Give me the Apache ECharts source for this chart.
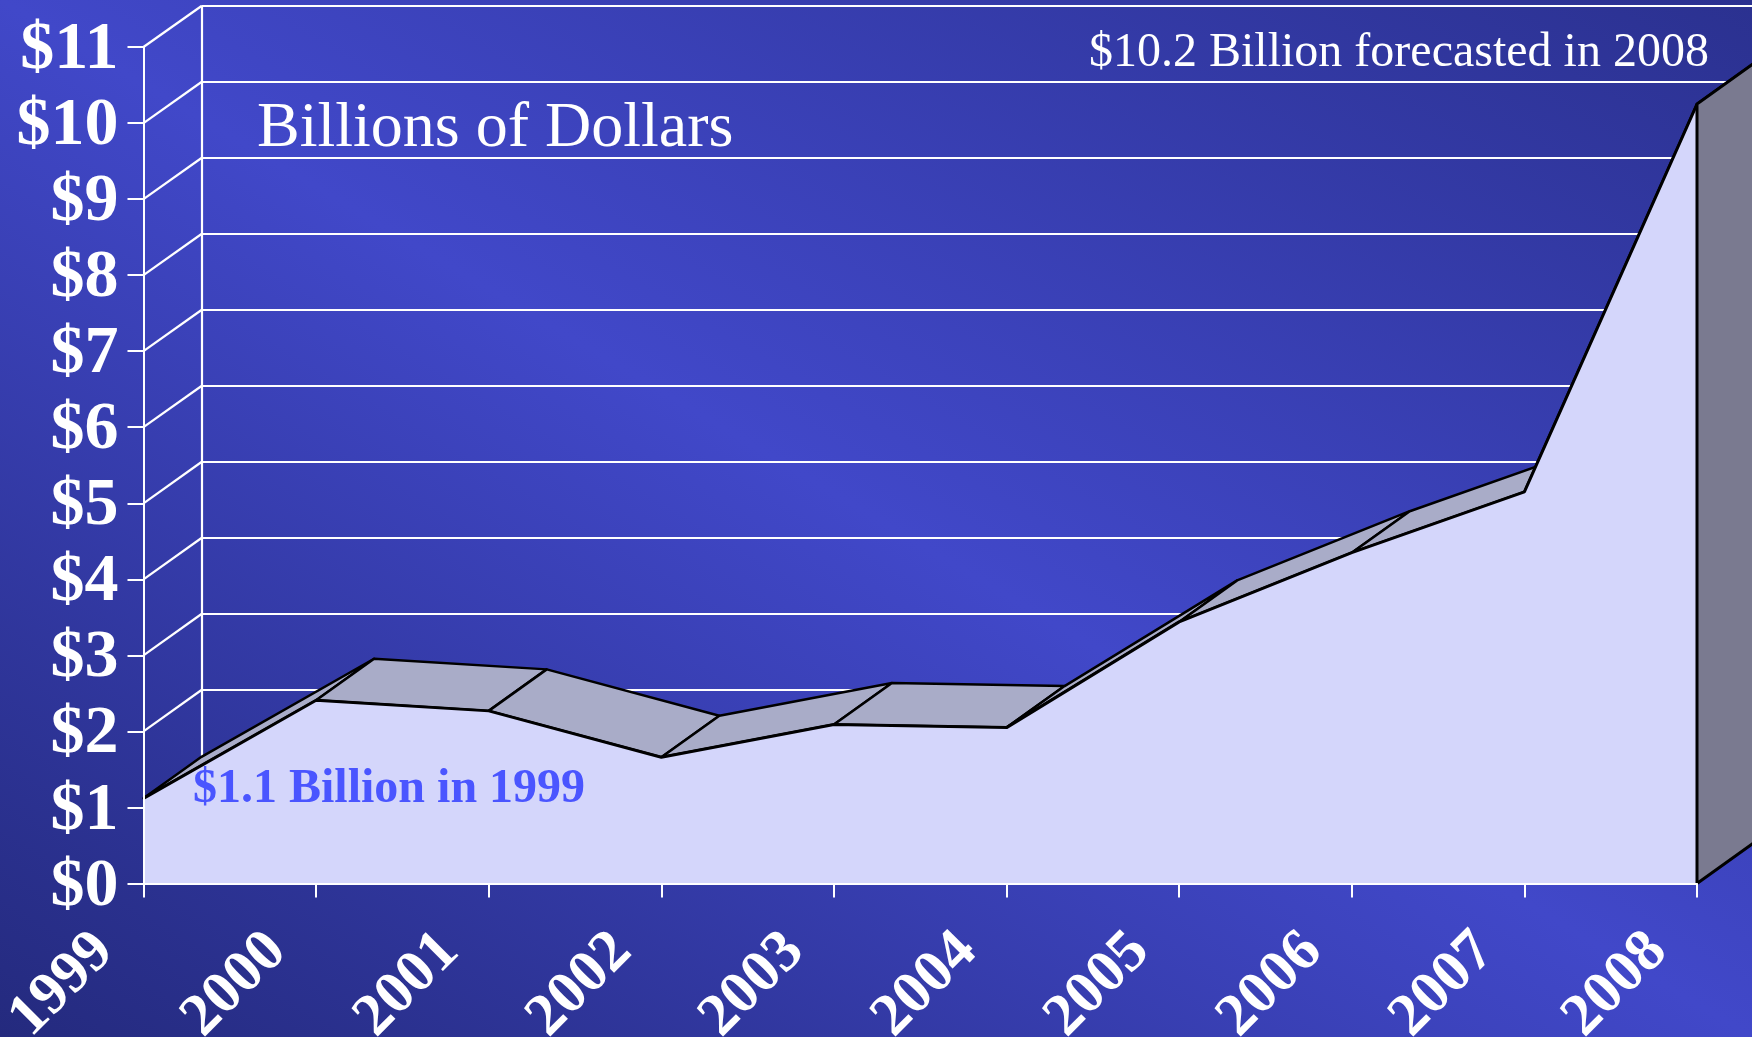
<!DOCTYPE html>
<html><head><meta charset="utf-8">
<style>html,body{margin:0;padding:0;background:#30369a}#c{width:1752px;height:1037px}</style>
<script src="https://cdn.jsdelivr.net/npm/echarts@6/dist/echarts.min.js"></script>
</head><body><div id="c"></div>
<script>
const years = ['1999','2000','2001','2002','2003','2004','2005','2006','2007','2008'];
const revenue = [1.12, 2.41, 2.27, 1.66, 2.09, 2.05, 3.44, 4.35, 5.15, 10.25];
const gridTicks = [0,1,2,3,4,5,6,7,8,9,10,11];
const DX = 58, DY = -41.5;
const FONT = '"Liberation Serif","Times New Roman",serif';
const chart = echarts.init(document.getElementById('c'), null, {renderer:'canvas'});
const back = p => [p[0]+DX, p[1]+DY];
const white = {stroke:'#fff',lineWidth:2.2};
chart.setOption({
  animation:false,
  backgroundColor:{type:'linear',global:true,x:422,y:1285,x2:1330,y2:-249,
    colorStops:[{offset:0,color:'#242a7e'},{offset:0.5,color:'#4148c9'},{offset:1,color:'#2b3190'}]},
  grid:{left:143.5,top:47,width:1553.5,height:836.5,containLabel:false,outerBoundsMode:'none'},
  xAxis:{type:'category',data:years,boundaryGap:false,z:6,
    axisLine:{show:true,onZero:false,lineStyle:{color:'#fff',width:2}},
    axisTick:{show:true,alignWithLabel:true,length:14,lineStyle:{color:'#fff',width:2}},
    splitLine:{show:false},
    axisLabel:{show:true,interval:0,rotate:45,margin:20,color:'#fff',fontFamily:FONT,fontWeight:'bold',fontSize:60,padding:[0,55,0,0],hideOverlap:false}},
  yAxis:{type:'value',min:0,max:11,interval:1,z:6,
    axisLine:{show:true,lineStyle:{color:'#fff',width:2}},
    axisTick:{show:true,length:16,lineStyle:{color:'#fff',width:2}},
    splitLine:{show:false},
    axisLabel:{margin:25,color:'#fff',fontFamily:FONT,fontWeight:'bold',fontSize:68,verticalAlign:'top',lineHeight:7,formatter:v=>'$'+v}},
  series:[
    {type:'custom',z:1,silent:true,clip:false,data:gridTicks,
      renderItem(params,api){
        const v=gridTicks[params.dataIndex];
        const a=api.coord([0,v]),b=api.coord([years.length-1,v]);
        const by=Math.round(a[1]+DY);
        const children=[
          {type:'line',shape:{x1:a[0],y1:a[1],x2:a[0]+DX,y2:by},style:white},
          {type:'line',shape:{x1:a[0]+DX,y1:by,x2:b[0]+DX,y2:by},style:white}
        ];
        if(v===0){
          const t=api.coord([0,gridTicks[gridTicks.length-1]]);
          children.push({type:'line',shape:{x1:Math.round(a[0]+DX),y1:by,x2:Math.round(t[0]+DX),y2:t[1]+DY},style:white});
        }
        return {type:'group',children};
      }},
    {type:'custom',z:2,silent:true,clip:false,data:revenue,
      renderItem(params,api){
        const i=params.dataIndex;
        if(i>=revenue.length-1) return null;
        const p=api.coord([i,revenue[i]]),q=api.coord([i+1,revenue[i+1]]);
        return {type:'polygon',shape:{points:[p,q,back(q),back(p)]},
          style:{fill:'#a9acc8',stroke:'#000',lineWidth:2.5,lineJoin:'round'}};
      }},
    {type:'line',z:3,silent:true,clip:false,data:revenue,symbol:'none',
      lineStyle:{color:'#000',width:3},itemStyle:{color:'#000'},
      areaStyle:{color:'#d4d6fb',opacity:1}},
    {type:'custom',z:4,silent:true,clip:false,data:[revenue[revenue.length-1]],
      renderItem(params,api){
        const n=years.length-1;
        const p=api.coord([n,revenue[n]]),o=api.coord([n,0]);
        return {type:'polygon',shape:{points:[p,back(p),back(o),o]},
          style:{fill:'#7a7a90',stroke:'#000',lineWidth:3,lineJoin:'round'}};
      }}
  ],
  graphic:[
    {type:'text',z:20,left:257,top:97,style:{text:'Billions of Dollars',fill:'#fff',font:'64px '+FONT}},
    {type:'text',z:20,left:1089,top:29,style:{text:'$10.2 Billion forecasted in 2008',fill:'#fff',font:'48px '+FONT}},
    {type:'text',z:20,left:193,top:766,style:{text:'$1.1 Billion in 1999',fill:'#4a55ff',font:'bold 48px '+FONT}}
  ]
});
</script></body></html>
